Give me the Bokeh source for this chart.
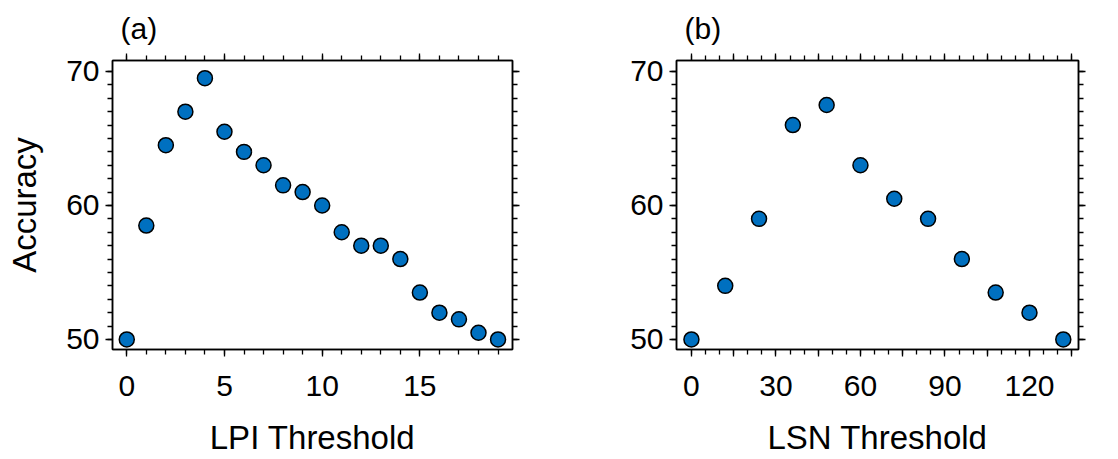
from bokeh.plotting import figure
from bokeh.layouts import row
from bokeh.models import (Range1d, LinearAxis, SingleIntervalTicker, FixedTicker,
                          CustomLabelingPolicy)
from bokeh.embed import file_html
from bokeh.resources import INLINE

# Data
lpi_threshold = [0, 1, 2, 3, 4, 5, 6, 7, 8, 9, 10, 11, 12, 13, 14, 15, 16, 17, 18, 19]
lpi_accuracy = [50, 58.5, 64.5, 67, 69.5, 65.5, 64, 63, 61.5, 61, 60, 58, 57, 57, 56, 53.5, 52, 51.5, 50.5, 50]
lsn_threshold = [0, 12, 24, 36, 48, 60, 72, 84, 96, 108, 120, 132]
lsn_accuracy = [50, 54, 59, 66, 67.5, 63, 60.5, 59, 56, 53.5, 52, 50]
panel_titles = ["(a)", "(b)"]
x_labels = ["LPI Threshold", "LSN Threshold"]
y_label = "Accuracy"

FONT = "Liberation Sans"
TICK_FS = "30px"
LABEL_FS = "33px"
FILL = "#0070c0"


def style_axis(ax, show_labels=True):
    ax.axis_line_color = "black"
    ax.axis_line_width = 1.5
    ax.major_tick_line_color = "black"
    ax.minor_tick_line_color = "black"
    ax.major_tick_line_width = 1.3
    ax.minor_tick_line_width = 1.3
    ax.major_tick_out = 7
    ax.major_tick_in = 0
    ax.minor_tick_out = 5
    ax.minor_tick_in = 0
    ax.major_label_text_font = FONT
    ax.major_label_text_color = "black"
    ax.major_label_text_font_size = TICK_FS
    ax.axis_label_text_font = FONT
    ax.axis_label_text_font_style = "normal"
    ax.axis_label_text_font_size = LABEL_FS
    ax.axis_label_text_color = "black"
    if not show_labels:
        ax.major_label_policy = CustomLabelingPolicy(
            code="for (const i of indices) indices.unset(i); return indices")
        ax.major_label_text_font_size = "1px"
        ax.major_label_standoff = 0


def make_panel(xs, ys, xr, xticker_fn, title, xlabel, ylabel, width, bl, br):
    p = figure(width=width, height=459, output_backend="svg", toolbar_location=None,
               x_range=Range1d(*xr), y_range=Range1d(49.25, 70.82),
               min_border_left=bl, min_border_right=br, min_border_top=60,
               min_border_bottom=110, x_axis_type=None, y_axis_type=None)
    p.outline_line_color = "black"
    p.outline_line_width = 1.5
    p.background_fill_color = "white"
    p.border_fill_color = "white"

    for loc in ["below", "above"]:
        ticker, overrides = xticker_fn()
        ax = LinearAxis(ticker=ticker)
        style_axis(ax, show_labels=(loc == "below"))
        if loc == "below":
            ax.major_label_overrides = overrides
            ax.major_label_standoff = 19
            ax.axis_label = xlabel
            ax.axis_label_standoff = 20
        p.add_layout(ax, loc)
    for loc in ["left", "right"]:
        ax = LinearAxis(ticker=SingleIntervalTicker(interval=10, num_minor_ticks=10))
        style_axis(ax, show_labels=(loc == "left"))
        if loc == "left":
            ax.major_label_standoff = 6
            if ylabel:
                ax.axis_label = ylabel
                ax.axis_label_standoff = 20
        p.add_layout(ax, loc)

    p.scatter(xs, ys, size=15, fill_color=FILL, line_color="black", line_width=1.5)

    p.title.text = title
    p.title.text_font = FONT
    p.title.text_font_size = "30px"
    p.title.text_font_style = "normal"
    p.title.text_color = "black"
    p.title.align = "left"
    p.title.offset = 8
    p.title.standoff = 10
    return p


def lpi_ticker():
    return SingleIntervalTicker(interval=5, num_minor_ticks=5), {}


def lsn_ticker():
    t = FixedTicker(ticks=list(range(0, 136, 15)), minor_ticks=list(range(0, 140, 5)))
    return t, {v: "" for v in range(15, 136, 30)}


pa = make_panel(lpi_threshold, lpi_accuracy, (-0.73, 19.74), lpi_ticker, panel_titles[0],
                x_labels[0], y_label, 560, 112, 48)
pb = make_panel(lsn_threshold, lsn_accuracy, (-5.3, 137.4), lsn_ticker, panel_titles[1],
                x_labels[1], None, 558, 116, 40)

layout = row(pa, pb)
open("out.html", "w").write(file_html(layout, INLINE))
